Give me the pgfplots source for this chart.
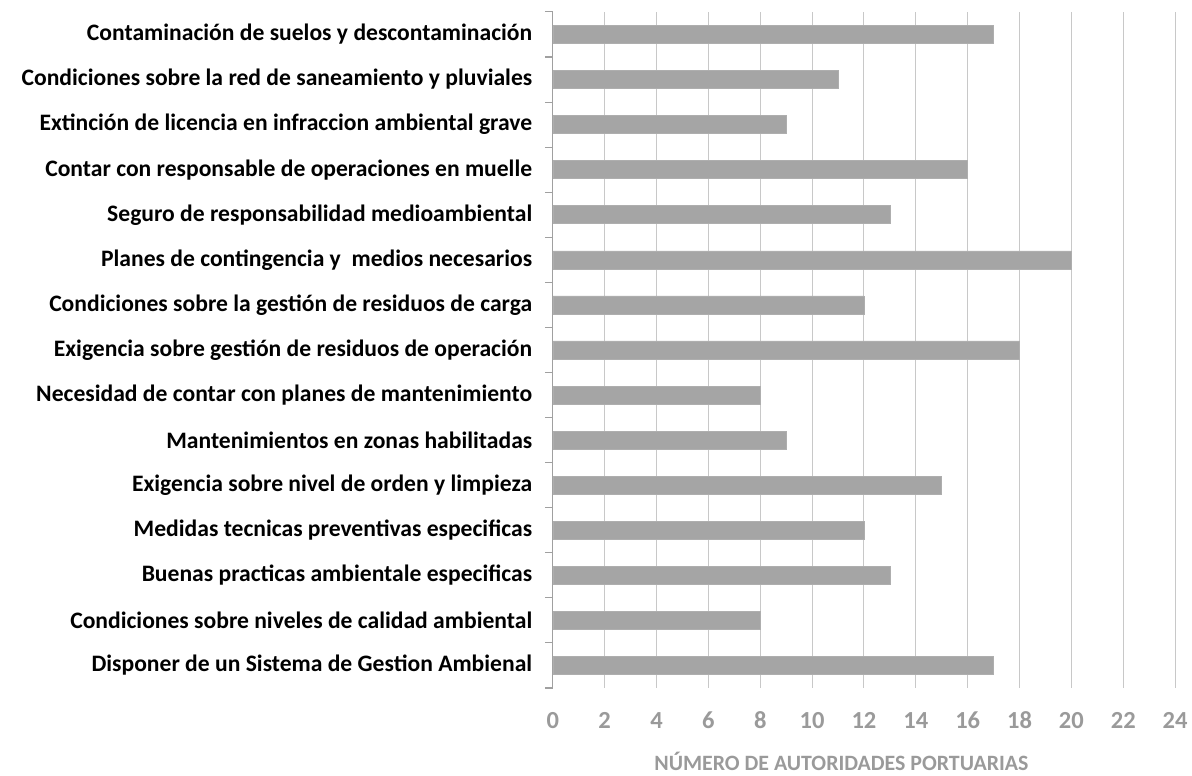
\documentclass[border=0pt]{standalone}
\usepackage{fontspec}
\setmainfont{Carlito}
\usepackage{pgfplots}
\pgfplotsset{compat=1.18}
\definecolor{barc}{HTML}{A5A5A5}
\definecolor{gridc}{HTML}{C8C8C8}
\definecolor{tickc}{HTML}{9A9A9A}
\begin{document}
\begin{tikzpicture}
\begin{axis}[
  scale only axis,
  width=469.5pt, height=510pt,
  at={(0,0)}, anchor=south west,
  xbar, bar width=0.4,
  xmin=0, xmax=24, xtick={0,2,...,24},
  ymin=-0.5, ymax=14.5,
  ytick={0,...,14},
  minor ytick={-0.5,0.5,...,14.5},
  yticklabels={
    Disponer de un Sistema de Gestion Ambienal,
    Condiciones sobre niveles de calidad ambiental,
    Buenas practicas ambientale especificas,
    Medidas tecnicas preventivas especificas,
    Exigencia sobre nivel de orden y limpieza,
    Mantenimientos en zonas habilitadas,
    Necesidad de contar con planes de mantenimiento,
    Exigencia sobre gestión de residuos de operación,
    Condiciones sobre la gestión de residuos de carga,
    Planes de contingencia y\ \ medios necesarios,
    Seguro de responsabilidad medioambiental,
    Contar con responsable de operaciones en muelle,
    Extinción de licencia en infraccion ambiental grave,
    Condiciones sobre la red de saneamiento y pluviales,
    Contaminación de suelos y descontaminación},
  axis x line*=bottom, axis y line*=left,
  x axis line style={draw=none},
  y axis line style={draw=gridc!80!black, line width=0.8pt},
  xmajorgrids, grid style={draw=gridc, line width=0.8pt},
  major tick length=0pt,
  minor tick length=6pt,
  tick align=outside,
  minor tick style={draw=gridc!80!black, line width=0.8pt},
  major y tick style={draw=none},
  major x tick style={draw=none},
  /pgf/number format/assume math mode=true,
  xticklabel style={font=\fontsize{18.5}{20}\selectfont\bfseries, text=tickc,
    text height=1.4ex, text depth=0pt, yshift=-20.5pt},
  yticklabel style={font=\fontsize{17.8}{20}\selectfont\bfseries, text=black, xshift=-12pt},
  xlabel={NÚMERO DE AUTORIDADES PORTUARIAS},
  xlabel style={font=\fontsize{16.5}{18}\selectfont\bfseries, text=tickc, yshift=-11pt, xshift=-17pt},
]
\addplot[fill=barc, draw=barc!90!white] coordinates {
  (17,0) (8,1) (13,2) (12,3) (15,4) (9,5) (8,6) (18,7)
  (12,8) (20,9) (13,10) (16,11) (9,12) (11,13) (17,14)};
\end{axis}
\path[use as bounding box] (-417pt,-56.25pt) rectangle (477pt,519pt);
\end{tikzpicture}
\end{document}
